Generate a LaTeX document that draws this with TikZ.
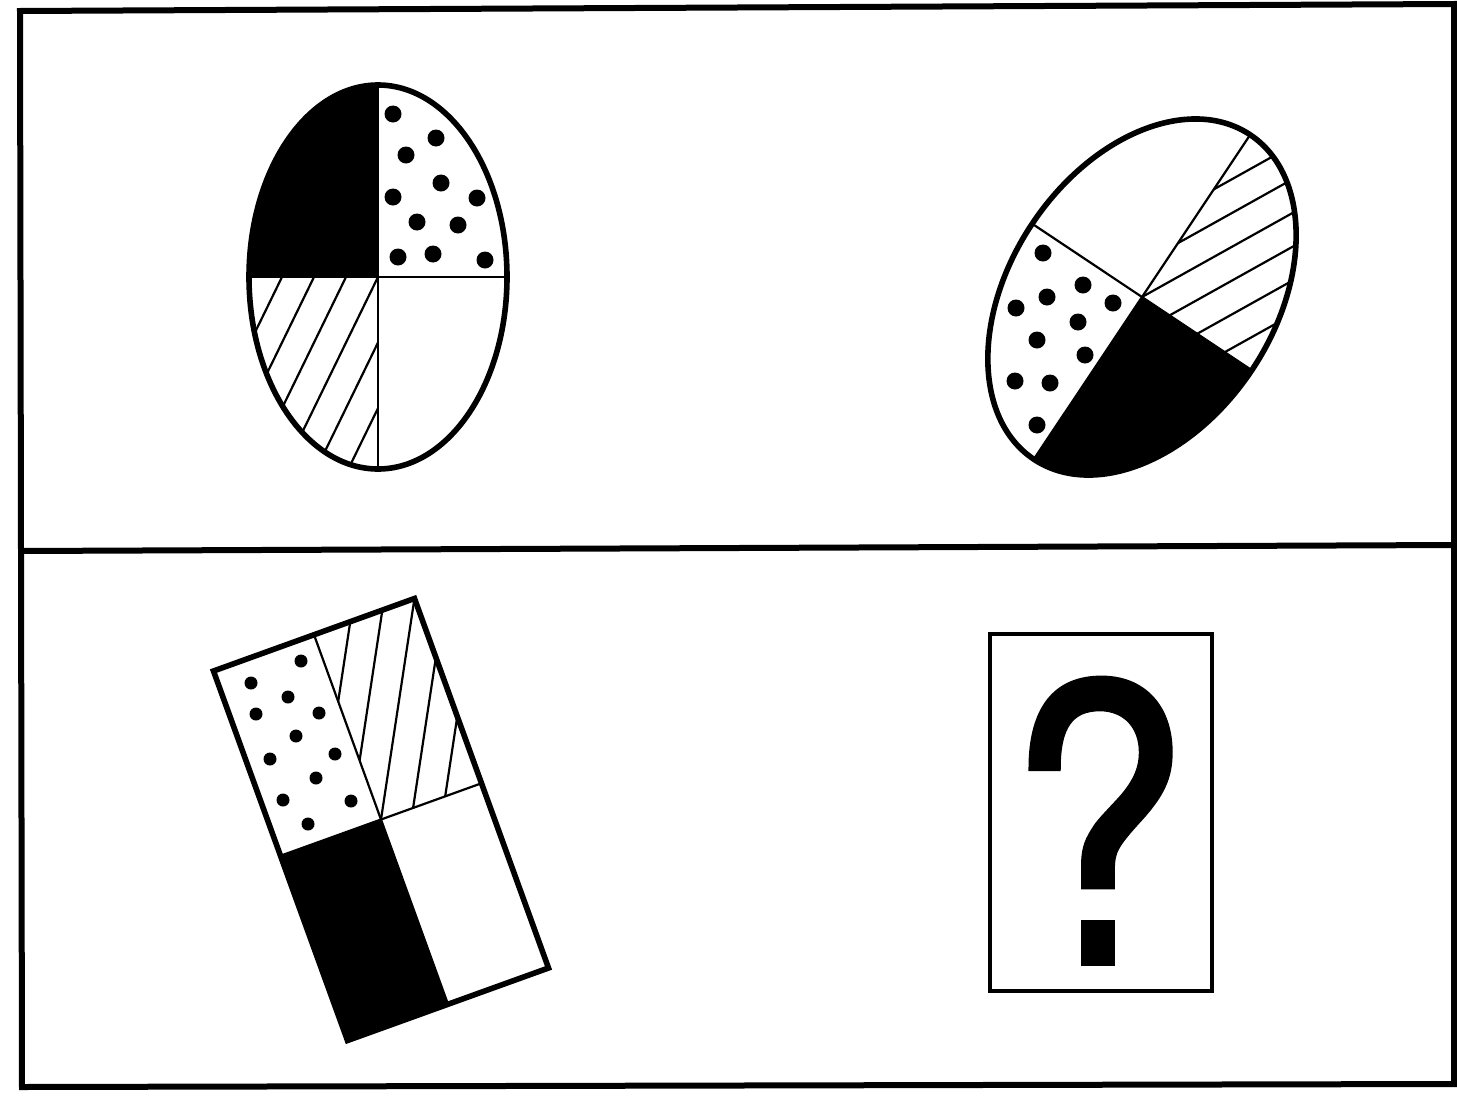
\documentclass[tikz,border=0pt]{standalone}
\usepackage{fontspec}
\setmainfont{Liberation Sans}
\newfontfamily\qfont[FakeBold=1.5]{TeX Gyre Heros}
\usetikzlibrary{calc}
\begin{document}
\begin{tikzpicture}[x=0.5pt,y=-0.5pt,
  frameline/.style={line width=3pt},
  outline/.style={line width=2.8pt},
  thinline/.style={line width=1.1pt},
  bigdot/.style={fill=black},
  qbox/.style={line width=2.2pt}]
\useasboundingbox (0,0) rectangle (1457,1098);
% ---------- frame ----------
\coordinate (FTL) at (20,11);
\coordinate (FTR) at (1454,4);
\coordinate (FBR) at (1454,1084);
\coordinate (FBL) at (22,1087);
\coordinate (FML) at (21,551);
\coordinate (FMR) at (1454,545);
\draw[frameline] (FTL) -- (FTR) -- (FBR) -- (FBL) -- cycle;
\draw[frameline] (FML) -- (FMR);
% ---------- ellipse 1 ----------
\coordinate (E1) at (378,277);
\begin{scope}
  \clip (E1) ellipse [x radius=129, y radius=192];
  \fill ([shift={(-200,-250)}]E1) rectangle (E1);
  \begin{scope}
    \clip ([shift={(-200,0)}]E1) rectangle ([shift={(0,250)}]E1);
    \foreach \k in {-3,...,2}
      \draw[thinline] ([shift={(32*\k+150,-307.5)}]E1) -- ([shift={(32*\k-150,307.5)}]E1);
  \end{scope}
  \draw[thinline] ([shift={(0,-200)}]E1) -- ([shift={(0,200)}]E1);
  \draw[thinline] ([shift={(-140,0)}]E1) -- ([shift={(140,0)}]E1);
\end{scope}
\foreach \p in {(393,114),(436,138),(406,155),(441,183),(393,197),(477,198),(417,222),(458,225),(398,257),(433,254),(485,260)}
  \fill[bigdot] \p circle[radius=8.5];
\draw[outline] (E1) ellipse [x radius=129, y radius=192];
% ---------- ellipse 2 ----------
\coordinate (E2) at (1142,297);
\begin{scope}[shift={(1142,297)}, rotate=56.3]
  \clip (0,0) ellipse [x radius=195, y radius=132];
  \fill (-250,0) rectangle (0,250);
  \begin{scope}
    \clip (0,0) rectangle (250,250);
    \foreach \k in {-8,...,8}
      \draw[thinline] (-13.45*\k-267,26.26*\k-136.8) -- (-13.45*\k+267,26.26*\k+136.8);
  \end{scope}
  \draw[thinline] (-200,0) -- (200,0);
  \draw[thinline] (0,-140) -- (0,140);
\end{scope}
\foreach \p in {(1043,253),(1083,285),(1047,297),(1113,303),(1016,308),(1078,322),(1037,340),(1085,355),(1015,381),(1050,383),(1037,425)}
  \fill[bigdot] \p circle[radius=8.5];
\draw[outline, rotate around={56.3:(E2)}] (E2) ellipse [x radius=195, y radius=132];
% ---------- rectangle ----------
\coordinate (RTL) at (213.5,671);
\coordinate (RTR) at (414.5,598.5);
\coordinate (RBR) at (548.5,968);
\coordinate (RBL) at (347.5,1040.5);
\coordinate (RC) at ($(RTL)!0.5!(RBR)$);
\coordinate (RMT) at ($(RTL)!0.5!(RTR)$);
\coordinate (RMB) at ($(RBL)!0.5!(RBR)$);
\coordinate (RML) at ($(RTL)!0.5!(RBL)$);
\coordinate (RMR) at ($(RTR)!0.5!(RBR)$);
\fill (RML) -- (RC) -- (RMB) -- (RBL) -- cycle;
\begin{scope}
  \clip (RMT) -- (RTR) -- (RMR) -- (RC) -- cycle;
  \foreach \k in {-2,...,2}
    \draw[thinline] ([shift={(29.66*\k+44.9,4.49*\k-296.6)}]RC) -- ([shift={(29.66*\k-44.9,4.49*\k+296.6)}]RC);
\end{scope}
\draw[thinline] (RMT) -- (RMB);
\draw[thinline] (RML) -- (RMR);
\foreach \p in {(301,661),(251,683),(288,697),(256,714),(319,713),(296,736),(270,759),(335,754),(316,778),(283,800),(351,801),(308,824)}
  \fill[bigdot] \p circle[radius=6.5];
\draw[outline, line join=miter] (RTL) -- (RTR) -- (RBR) -- (RBL) -- cycle;
% ---------- question box ----------
\draw[qbox] (990,634) rectangle (1212,991);
\node[anchor=base, inner sep=0pt] (qm) at (1098,963) {\scalebox{0.84}[1]{\qfont\fontsize{192}{192}\selectfont ?}};
\end{tikzpicture}
\end{document}
